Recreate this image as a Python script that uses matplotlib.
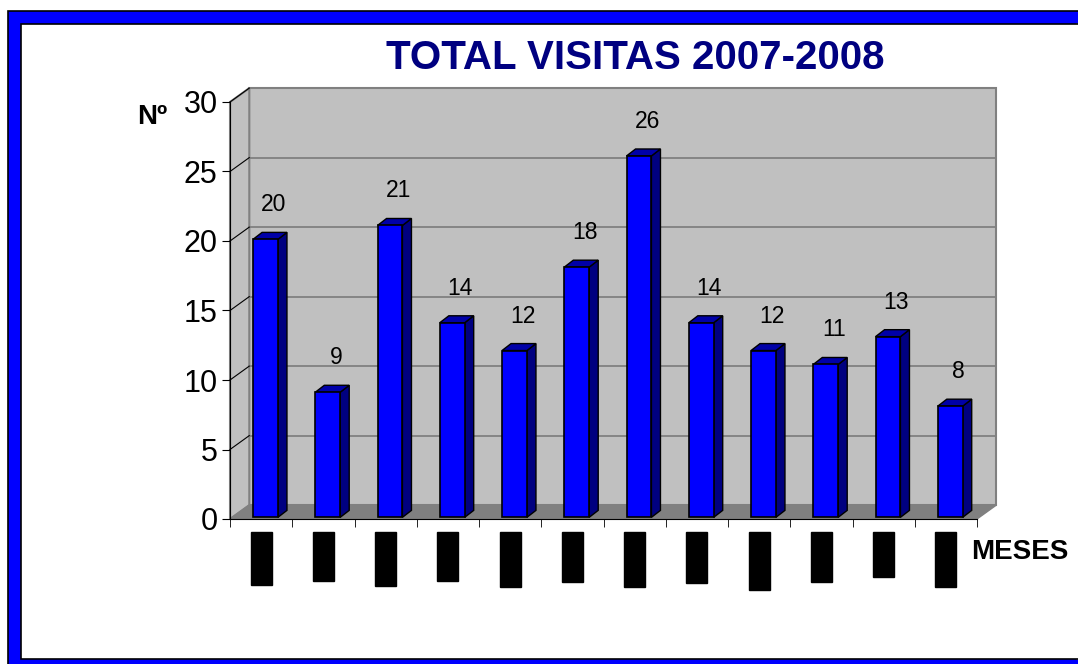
import numpy as np
import matplotlib
matplotlib.use("Agg")
import matplotlib.pyplot as plt
from matplotlib.patches import Polygon, Rectangle

plt.rcParams['font.family'] = ['Liberation Sans', 'DejaVu Sans']

# data
meses = ['sep-07', 'oct-07', 'nov-07', 'dic-07', 'ene-08', 'feb-08',
         'mar-08', 'abr-08', 'may-08', 'jun-08', 'jul-08', 'ago-08']
visitas = [20, 9, 21, 14, 12, 18, 26, 14, 12, 11, 13, 8]
yticks = [0, 5, 10, 15, 20, 25, 30]

W, H = 1078, 664
fig = plt.figure(figsize=(W / 100, H / 100), dpi=100)


def frame_rect(left, top, bottom, **kw):
    # rectangle given in pixels from the top-left corner, open to the right
    return Rectangle((left / W, 1 - bottom / H), 1.5, (bottom - top) / H,
                     transform=fig.transFigure, **kw)


# blue frame around the chart (runs past the right and bottom edges)
fig.patches.append(frame_rect(8, 11, 700, fc='#0000ff', ec='black', lw=1.2, zorder=-2))
fig.patches.append(frame_rect(21, 24, 659, fc='white', ec='black', lw=1.2, zorder=-1))
fig.add_artist(plt.Line2D([1076.5 / W] * 2, [1 - 659 / H, 1 - 24 / H], transform=fig.transFigure,
                          color='#a0a0a0', lw=1.2, zorder=-1))

ax = fig.add_axes([230 / W, (H - 519) / H, 747 / W, 417 / H])
n = len(visitas)
ax.set_xlim(0, n)
ax.set_ylim(0, 30)

DX, DY = 0.31, 1.0  # wall depth

# walls and floor
ax.add_patch(Polygon([(DX, DY), (n + DX, DY), (n + DX, 30 + DY), (DX, 30 + DY)],
                     closed=True, fc='#c0c0c0', ec='#808080', lw=1.5, clip_on=False, zorder=1))
ax.add_patch(Polygon([(0, 0), (DX, DY), (DX, 30 + DY), (0, 30)],
                     closed=True, fc='#c0c0c0', ec='#808080', lw=1.5, clip_on=False, zorder=1))
ax.add_patch(Polygon([(0, 0), (n, 0), (n + DX, DY), (DX, DY)],
                     closed=True, fc='#808080', ec='#808080', lw=1, clip_on=False, zorder=1))

for v in yticks[1:]:
    ax.plot([DX, n + DX], [v + DY, v + DY], color='#808080', lw=1.3, clip_on=False, zorder=2)
    ax.plot([0, DX], [v, v + DY], color='black', lw=0.8, clip_on=False, zorder=2)

# 3d bars
w, sdx, sdy, y0 = 0.40, 0.145, 0.5, 0.12
for i, v in enumerate(visitas):
    x0 = i + 0.37
    ax.add_patch(Polygon([(x0 + w, y0), (x0 + w + sdx, y0 + sdy), (x0 + w + sdx, y0 + v + sdy),
                          (x0 + w, y0 + v)], closed=True, fc='#000080', ec='black', lw=1,
                         zorder=3, clip_on=False))
    ax.add_patch(Polygon([(x0, y0 + v), (x0 + w, y0 + v), (x0 + w + sdx, y0 + v + sdy),
                          (x0 + sdx, y0 + v + sdy)], closed=True, fc='#0000a8', ec='black', lw=1,
                         zorder=3, clip_on=False))
    ax.add_patch(Rectangle((x0, y0), w, v, fc='#0000ff', ec='black', lw=1.2, zorder=4))
    ax.text(i + 0.7, v + 2.6, str(v), ha='center', va='center', fontsize=16.5, zorder=5)

for s in ['top', 'right']:
    ax.spines[s].set_visible(False)
ax.spines['left'].set_zorder(6)
ax.spines['bottom'].set_zorder(6)
ax.set_facecolor('none')

ax.set_yticks(yticks)
ax.tick_params(axis='y', labelsize=22, length=6, pad=3)
ax.set_xticks(np.arange(n + 1), minor=True)
ax.set_xticks(np.arange(n) + 0.5)
ax.set_xticklabels(meses, rotation=90, fontsize=11, color='black',
                   bbox=dict(fc='black', ec='black', pad=2.5))
ax.tick_params(axis='x', which='major', length=0, pad=12)
ax.tick_params(axis='x', which='minor', length=6)

fig.text(635 / W, 1 - 58 / H, 'TOTAL VISITAS 2007-2008', ha='center', va='center',
         fontsize=29, fontweight='bold', color='#000080')
fig.text(152 / W, 1 - 117 / H, 'Nº', ha='center', va='center', fontsize=20, fontweight='bold')
fig.text(1020 / W, 1 - 552 / H, 'MESES', ha='center', va='center', fontsize=20,
         fontweight='bold')

fig.savefig('out.png', dpi=100)
